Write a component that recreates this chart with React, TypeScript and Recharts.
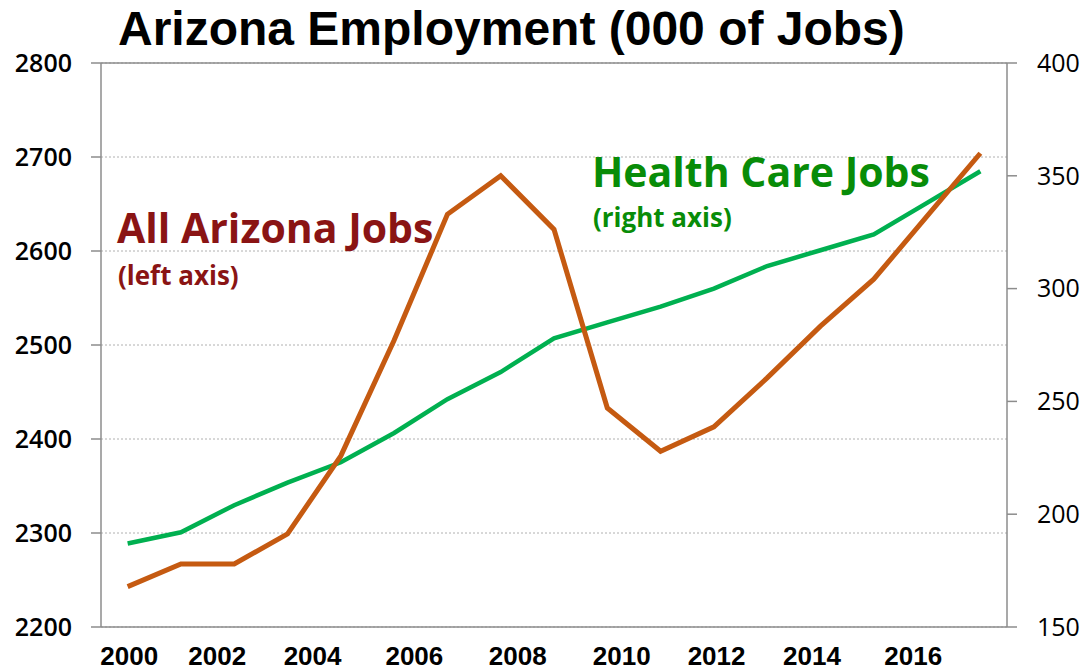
import { CartesianGrid, Line, LineChart, ReferenceLine, XAxis, YAxis } from "recharts";

const YEARS = [2000, 2001, 2002, 2003, 2004, 2005, 2006, 2007, 2008, 2009, 2010, 2011, 2012, 2013, 2014, 2015, 2016];
const ALL_JOBS = [2243, 2267, 2267, 2299, 2382, 2505, 2639, 2680, 2623, 2433, 2387, 2413, 2465, 2520, 2570, 2637, 2704];
const HEALTH_JOBS = [187, 192, 204, 214, 223, 236, 251, 263, 278, 285, 292, 300, 310, 317, 324, 338, 352];

// the source chart's year labels sit a little off the data points
const X_TICK_POS = [2000.03, 2001.68, 2003.47, 2005.38, 2007.32, 2009.27, 2011.05, 2012.84, 2014.74];
const X_TICK_LABELS = ["2000", "2002", "2004", "2006", "2008", "2010", "2012", "2014", "2016"];
const LEFT_TICKS = [2200, 2300, 2400, 2500, 2600, 2700, 2800];
const RIGHT_TICKS = [150, 200, 250, 300, 350, 400];

const data = YEARS.map((year, i) => ({
  year,
  all: ALL_JOBS[i],
  health: HEALTH_JOBS[i],
}));

const AXIS = "#8c8c8c";
const ORANGE = "#C55A11";
const GREEN = "#00B050";
const RED_TEXT = "#8A1414";
const GREEN_TEXT = "#088C08";
const LABEL_FONT = "'Open Sans', sans-serif";

export default function App() {
  return (
    <div style={{ position: "relative", width: 1088, height: 670 }}>
      <style>{"body{margin:0}"}</style>
      <LineChart
        width={1088}
        height={670}
        data={data}
        margin={{ top: 63, right: 0, bottom: 0, left: 0 }}
      >
        <CartesianGrid
          yAxisId="left"
          vertical={false}
          stroke="#b0b0b0"
          strokeDasharray="2 2"
        />
        <ReferenceLine yAxisId="left" y={2800} stroke={AXIS} strokeWidth={1.5} />
        <XAxis
          dataKey="year"
          type="number"
          domain={[1999.5, 2016.5]}
          ticks={X_TICK_POS}
          tickFormatter={(_v, i) => X_TICK_LABELS[i]}
          interval={0}
          height={43}
          stroke={AXIS}
          strokeWidth={1.5}
          tickLine={false}
          tickSize={6}
          tickMargin={14}
          tick={{
            fill: "#000",
            fontSize: 26,
            fontWeight: 700,
            fontFamily: "'Liberation Sans', Arial, sans-serif",
          }}
        />
        <YAxis
          yAxisId="left"
          orientation="left"
          width={101}
          domain={[2200, 2800]}
          ticks={LEFT_TICKS}
          interval={0}
          stroke={AXIS}
          strokeWidth={1.5}
          tickSize={10}
          tickMargin={19}
          tick={{ fill: "#000", fontSize: 25, fontWeight: 600, fontFamily: LABEL_FONT }}
        />
        <YAxis
          yAxisId="right"
          orientation="right"
          width={81}
          domain={[150, 400]}
          ticks={RIGHT_TICKS}
          interval={0}
          stroke={AXIS}
          strokeWidth={1.5}
          tickSize={10}
          tickMargin={20}
          tick={{ fill: "#000", fontSize: 25, fontFamily: LABEL_FONT }}
        />
        <Line
          yAxisId="right"
          dataKey="health"
          stroke={GREEN}
          strokeWidth={4.5}
          dot={false}
          isAnimationActive={false}
        />
        <Line
          yAxisId="left"
          dataKey="all"
          stroke={ORANGE}
          strokeWidth={5}
          dot={false}
          isAnimationActive={false}
        />
      </LineChart>
      <svg
        width={1088}
        height={670}
        style={{ position: "absolute", left: 0, top: 0, pointerEvents: "none" }}
      >
        <text
          x={118}
          y={45}
          fontFamily="'Liberation Sans', Arial, sans-serif"
          fontWeight={700}
          fontSize={48}
          fill="#000"
        >
          Arizona Employment (000 of Jobs)
        </text>
        <text x={117} y={243} fontFamily={LABEL_FONT} fontWeight={700} fontSize={41} fill={RED_TEXT}>
          All Arizona Jobs
        </text>
        <text x={118} y={285} fontFamily={LABEL_FONT} fontWeight={700} fontSize={26} fill={RED_TEXT}>
          (left axis)
        </text>
        <text x={592} y={187} fontFamily={LABEL_FONT} fontWeight={700} fontSize={41} fill={GREEN_TEXT}>
          Health Care Jobs
        </text>
        <text x={593} y={227} fontFamily={LABEL_FONT} fontWeight={700} fontSize={26} fill={GREEN_TEXT}>
          (right axis)
        </text>
      </svg>
    </div>
  );
}
